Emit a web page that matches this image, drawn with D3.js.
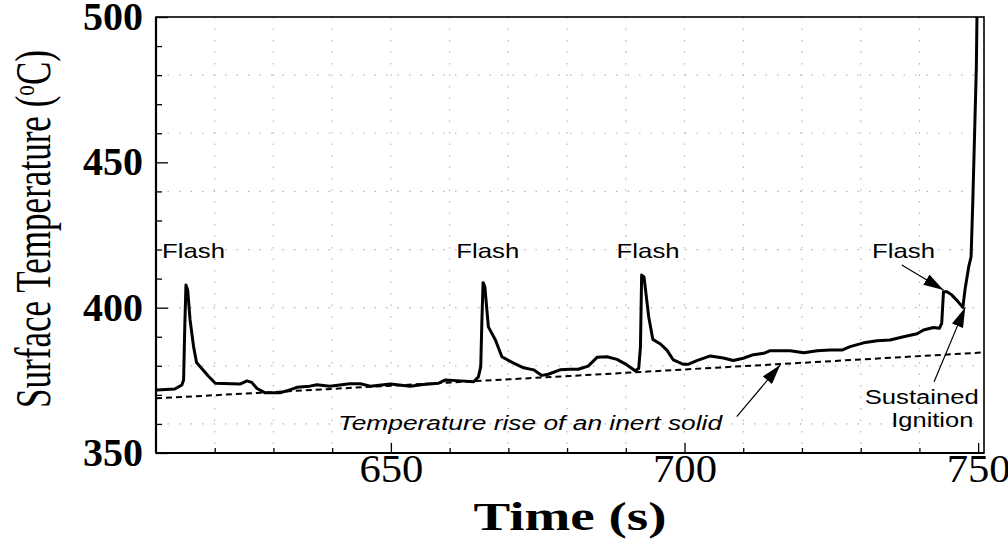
<!DOCTYPE html>
<html>
<head>
<meta charset="utf-8">
<script src="https://cdn.jsdelivr.net/npm/d3@7"></script>
<style>
  body { margin: 0; background: #fff; }
  svg { display: block; background: #fff; }
  .serif { font-family: "Liberation Serif", "Times New Roman", serif; }
  .sans { font-family: "Liberation Sans", Arial, Helvetica, sans-serif; }
</style>
</head>
<body>
<svg id="chart"></svg>
<script>
const width = 1008;
const height = 546;
const margin = { top: 17, right: 24, bottom: 93, left: 156 };
const innerW = width - margin.left - margin.right;
const innerH = height - margin.top - margin.bottom;

// surface temperature trace
const time = [
  610.1, 613.2, 614.4, 614.7, 614.9, 615.1, 615.4, 615.8, 616.4, 616.9,
  617.8, 618.9, 620.1, 624.3, 625.5, 626.3, 627.2, 628.6, 631.1, 632.3,
  634.0, 636.2, 637.4, 639.6, 641.3, 643.0, 644.8, 646.5, 649.9, 653.3,
  655.5, 658.1, 659.2, 661.2, 664.1, 664.9, 665.3, 665.5, 665.7, 666.0,
  666.6, 667.8, 668.9, 670.9, 672.6, 674.3, 675.7, 676.8, 678.8, 680.5,
  681.9, 683.6, 685.1, 686.8, 688.5, 690.2, 691.6, 692.2, 692.5, 692.7,
  693.1, 693.9, 694.6, 695.9, 697.0, 698.1, 699.8, 700.6, 702.1, 704.4,
  706.6, 708.3, 710.0, 711.5, 713.5, 714.6, 716.3, 718.0, 720.3, 722.6,
  724.8, 726.8, 728.2, 730.5, 732.8, 735.0, 737.3, 739.6, 740.7, 742.4,
  743.4, 743.8, 744.1, 744.7, 745.5, 746.6, 747.4, 747.8, 748.4, 748.8,
  749.1, 749.4, 749.7, 749.8
];
const temp = [
  371.7, 372.0, 373.4, 375.1, 393.4, 407.8, 406.0, 395.8, 386.6, 381.1,
  379.1, 376.5, 374.0, 373.7, 374.8, 374.3, 372.2, 370.7, 370.7, 371.4,
  372.6, 373.0, 373.5, 373.0, 373.4, 373.8, 373.8, 373.0, 373.7, 373.0,
  373.6, 374.0, 375.1, 374.9, 374.5, 376.2, 379.7, 395.8, 408.6, 407.2,
  393.4, 388.9, 383.1, 380.9, 379.3, 378.6, 376.7, 377.1, 378.6, 378.8,
  378.8, 379.9, 382.9, 383.1, 382.2, 380.3, 378.3, 379.1, 386.6, 411.2,
  410.6, 396.9, 389.1, 387.5, 385.4, 382.0, 380.5, 380.5, 381.8, 383.4,
  382.7, 381.8, 382.6, 383.7, 384.3, 385.2, 385.2, 385.2, 384.5, 385.2,
  385.4, 385.4, 386.6, 387.9, 388.6, 388.9, 390.0, 391.0, 392.3, 393.2,
  392.9, 394.6, 405.5, 405.5, 404.4, 402.0, 400.1, 406.7, 414.1, 417.5,
  437.0, 460.0, 483.0, 500.0
];

// inert solid reference (dashed)
const inertTime = [610, 645, 680.5, 716.3, 751];
const inertTemp = [368.8, 372.6, 376.5, 380.6, 384.6];

const xTicks = [650, 700, 750];
const yTicks = [350, 400, 450, 500];
const xMinor = [620, 630, 640, 660, 670, 680, 690, 710, 720, 730, 740];
const yMinor = [360, 370, 380, 390, 410, 420, 430, 440, 460, 470, 480, 490];
const xGrid = [620, 630, 640, 650, 660, 670, 680, 690, 700, 710, 720, 730, 740];
const yGrid = [360, 380, 400, 420, 440, 460, 480];

const flashLabels = ["Flash", "Flash", "Flash", "Flash"];

const svg = d3.select("#chart")
              .attr("width", width)
              .attr("height", height);

const x = d3.scaleLinear().domain([610, 751]).range([0, innerW]);
const y = d3.scaleLinear().domain([350, 500]).range([innerH, 0]);

const g = svg.append("g")
             .attr("transform", `translate(${margin.left},${margin.top})`);

// dotted grid
g.append("g")
 .selectAll("line")
 .data(xGrid)
 .enter()
 .append("line")
 .attr("x1", d => x(d)).attr("x2", d => x(d))
 .attr("y1", 0).attr("y2", innerH)
 .attr("stroke", "#b8b8b8").attr("stroke-width", 1.2)
 .attr("stroke-dasharray", "1.5,10");

g.append("g")
 .selectAll("line")
 .data(yGrid)
 .enter()
 .append("line")
 .attr("x1", 0).attr("x2", innerW)
 .attr("y1", d => y(d)).attr("y2", d => y(d))
 .attr("stroke", "#b8b8b8").attr("stroke-width", 1.2)
 .attr("stroke-dasharray", "1.5,10");

// axes: minor + major ticks pointing inward
const xMinorAxis = d3.axisBottom(x).tickValues(xMinor).tickSize(-5).tickFormat("");
const xMajorAxis = d3.axisBottom(x).tickValues(xTicks).tickSize(-10).tickPadding(1).tickFormat(d3.format("d"));
const yMinorAxis = d3.axisLeft(y).tickValues(yMinor).tickSize(-6).tickFormat("");
const yMajorAxis = d3.axisLeft(y).tickValues(yTicks).tickSize(-12).tickPadding(13).tickFormat(d3.format("d"));

g.append("g").attr("transform", `translate(0,${innerH})`).call(xMinorAxis);
const xAxisG = g.append("g").attr("transform", `translate(0,${innerH})`).call(xMajorAxis);
g.append("g").call(yMinorAxis);
const yAxisG = g.append("g").call(yMajorAxis);

g.selectAll(".domain").remove();
g.selectAll(".tick line").attr("stroke", "#000").attr("stroke-width", 1.3);

xAxisG.selectAll(".tick text")
      .attr("class", "serif")
      .attr("fill", "#000")
      .style("font-size", "40px")
      .attr("textLength", 64)
      .attr("lengthAdjust", "spacingAndGlyphs");

yAxisG.selectAll(".tick text")
      .attr("class", "serif")
      .attr("fill", "#000")
      .style("font-size", "39px")
      .style("font-weight", "bold")
      .attr("textLength", 60)
      .attr("lengthAdjust", "spacingAndGlyphs");

// frame
g.append("rect")
 .attr("width", innerW).attr("height", innerH)
 .attr("fill", "none").attr("stroke", "#000").attr("stroke-width", 1.6);
g.append("line")
 .attr("x1", 0).attr("x2", 0).attr("y1", 0).attr("y2", innerH)
 .attr("stroke", "#000").attr("stroke-width", 2.2);
g.append("line")
 .attr("x1", 0).attr("x2", innerW).attr("y1", innerH).attr("y2", innerH)
 .attr("stroke", "#000").attr("stroke-width", 2.2);

// inert solid line
const inert = inertTime.map((t, i) => [t, inertTemp[i]]);
g.append("path")
 .datum(inert)
 .attr("fill", "none")
 .attr("stroke", "#000")
 .attr("stroke-width", 2)
 .attr("stroke-dasharray", "6,4")
 .attr("d", d3.line().x(d => x(d[0])).y(d => y(d[1])));

// measured trace
const trace = time.map((t, i) => [t, temp[i]]);
g.append("path")
 .datum(trace)
 .attr("fill", "none")
 .attr("stroke", "#000")
 .attr("stroke-width", 3)
 .attr("stroke-linejoin", "round")
 .attr("d", d3.line().x(d => x(d[0])).y(d => y(d[1])));

// arrowheads
svg.append("defs").append("marker")
   .attr("id", "head")
   .attr("viewBox", "0 0 20 12")
   .attr("refX", 20).attr("refY", 6)
   .attr("markerWidth", 20).attr("markerHeight", 12)
   .attr("markerUnits", "userSpaceOnUse")
   .attr("orient", "auto")
   .append("path")
   .attr("d", "M0,0 L20,6 L0,12 Z")
   .attr("fill", "#000");

const arrows = [
  { from: [708.9, 362.5], to: [716.3, 380.3] },
  { from: [737.0, 414.7], to: [744.1, 406.1] },
  { from: [742.5, 374.5], to: [747.8, 400.1] }
];
g.selectAll(".arrow")
 .data(arrows)
 .enter()
 .append("line")
 .attr("x1", d => x(d.from[0])).attr("y1", d => y(d.from[1]))
 .attr("x2", d => x(d.to[0])).attr("y2", d => y(d.to[1]))
 .attr("stroke", "#000").attr("stroke-width", 1.2)
 .attr("marker-end", "url(#head)");

// annotation text
const flashPos = [616.4, 666.5, 693.8, 737.3];
g.selectAll(".flash")
 .data(flashLabels)
 .enter()
 .append("text")
 .attr("class", "sans")
 .attr("x", (d, i) => x(flashPos[i]))
 .attr("y", y(417.1))
 .attr("text-anchor", "middle")
 .style("font-size", "21px")
 .attr("textLength", 63)
 .attr("lengthAdjust", "spacingAndGlyphs")
 .text(d => d);

const notes = [
  { text: "Temperature rise of an inert solid", t: 673.7, v: 357.9, w: 384, italic: true },
  { text: "Sustained", t: 740.4, v: 366.9, w: 114 },
  { text: "Ignition", t: 742.2, v: 358.9, w: 82 }
];
g.selectAll(".note")
 .data(notes)
 .enter()
 .append("text")
 .attr("class", "sans")
 .attr("x", d => x(d.t))
 .attr("y", d => y(d.v))
 .attr("text-anchor", "middle")
 .style("font-size", "20px")
 .style("font-style", d => d.italic ? "italic" : "normal")
 .attr("textLength", d => d.w)
 .attr("lengthAdjust", "spacingAndGlyphs")
 .text(d => d.text);

// axis titles
svg.append("text")
   .attr("class", "serif")
   .attr("x", 570).attr("y", 530)
   .attr("text-anchor", "middle")
   .style("font-size", "40px")
   .style("font-weight", "bold")
   .attr("textLength", 193)
   .attr("lengthAdjust", "spacingAndGlyphs")
   .text("Time (s)");

const yTitle = svg.append("text")
   .attr("class", "serif")
   .attr("text-anchor", "middle")
   .style("font-size", "50px");
yTitle.append("tspan").text("Surface Temperature (");
yTitle.append("tspan").attr("baseline-shift", "super").style("font-size", "30px").text("o");
yTitle.append("tspan").text("C)");
// squeeze along the reading direction so it spans the same height as the original
const titleLen = yTitle.node().getBBox().width;
yTitle.attr("transform", `translate(50,229) rotate(-90) scale(${358 / titleLen},1)`);
</script>
</body>
</html>
